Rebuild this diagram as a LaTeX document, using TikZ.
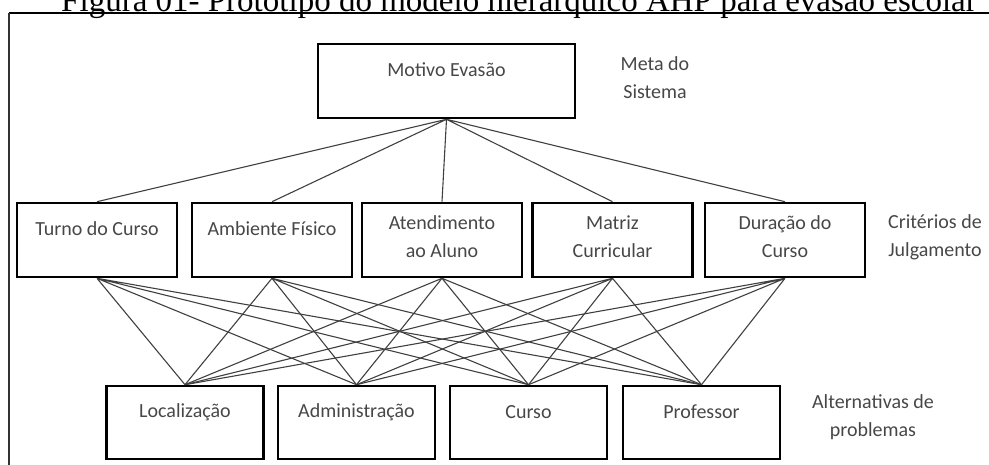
\documentclass[tikz,border=0pt]{standalone}
\usepackage{fontspec}
\setmainfont{Liberation Serif}
\setsansfont{Carlito}
\begin{document}
\begin{tikzpicture}[x=1pt,y=-1pt,
   box/.style={draw=black, line width=2.6pt, minimum width=160pt, minimum height=74pt, inner sep=0pt},
   alt/.style={box, minimum width=157pt, minimum height=73pt},
   txt/.style={font=\sffamily\fontsize{20}{28}\selectfont, text=black!72, align=center, inner sep=0pt},
   link/.style={draw=black!75, line width=1.1pt}]
     \useasboundingbox (0,0) rectangle (989,464);

     % titulo e moldura
     \node[font=\fontsize{33}{36}\selectfont, anchor=base, inner sep=0pt] (title) at (519,11) {Figura 01- Protótipo do modelo hierárquico AHP para evasão escolar};
     \draw[line width=2pt] (9,13) -- (995,13);
     \draw[line width=1.4pt, black!80] (9,13) -- (9,470);

     % meta
     \node[box, minimum width=257pt] (goal) at (446.5,81) {};
     \node[txt] (goaltxt) at (446.5,70) {Motivo Evasão};
     \node[txt] (lvlgoal) at (655,78) {Meta do\\Sistema};

     % criterios
     \node[box] (c1) at (97,240) {};
     \node[box] (c2) at (272,240) {};
     \node[box] (c3) at (442,240) {};
     \node[box] (c4) at (612.5,240) {};
     \node[box] (c5) at (785,240) {};
     \node[txt] (c1txt) at (97,229) {Turno do Curso};
     \node[txt] (c2txt) at (272,229) {Ambiente Físico};
     \node[txt] (c3txt) at (442,237) {Atendimento\\ao Aluno};
     \node[txt] (c4txt) at (612.5,237) {Matriz\\Curricular};
     \node[txt] (c5txt) at (785,237) {Duração do\\Curso};
     \node[txt] (lvlcrit) at (935,237) {Critérios de\\Julgamento};

     % alternativas
     \node[alt] (a1) at (185,422.5) {};
     \node[alt] (a2) at (356.5,422.5) {};
     \node[alt] (a3) at (528.5,422.5) {};
     \node[alt] (a4) at (701.5,422.5) {};
     \node[txt] (a1txt) at (185,412) {Localização};
     \node[txt] (a2txt) at (356.5,412) {Administração};
     \node[txt] (a3txt) at (528.5,412) {Curso};
     \node[txt] (a4txt) at (701.5,412) {Professor};
     \node[txt] (lvlalt) at (873,417) {Alternativas de\\problemas};

     % ligacoes
     \draw[link] (goal.south) -- (c1.north) (goal.south) -- (c2.north) (goal.south) -- (c3.north) (goal.south) -- (c4.north) (goal.south) -- (c5.north);
     \draw[link] (c1.south) -- (a1.north) (c1.south) -- (a2.north) (c1.south) -- (a3.north) (c1.south) -- (a4.north);
     \draw[link] (c2.south) -- (a1.north) (c2.south) -- (a2.north) (c2.south) -- (a3.north) (c2.south) -- (a4.north);
     \draw[link] (c3.south) -- (a1.north) (c3.south) -- (a2.north) (c3.south) -- (a3.north) (c3.south) -- (a4.north);
     \draw[link] (c4.south) -- (a1.north) (c4.south) -- (a2.north) (c4.south) -- (a3.north) (c4.south) -- (a4.north);
     \draw[link] (c5.south) -- (a1.north) (c5.south) -- (a2.north) (c5.south) -- (a3.north) (c5.south) -- (a4.north);

   \end{tikzpicture}
\end{document}
